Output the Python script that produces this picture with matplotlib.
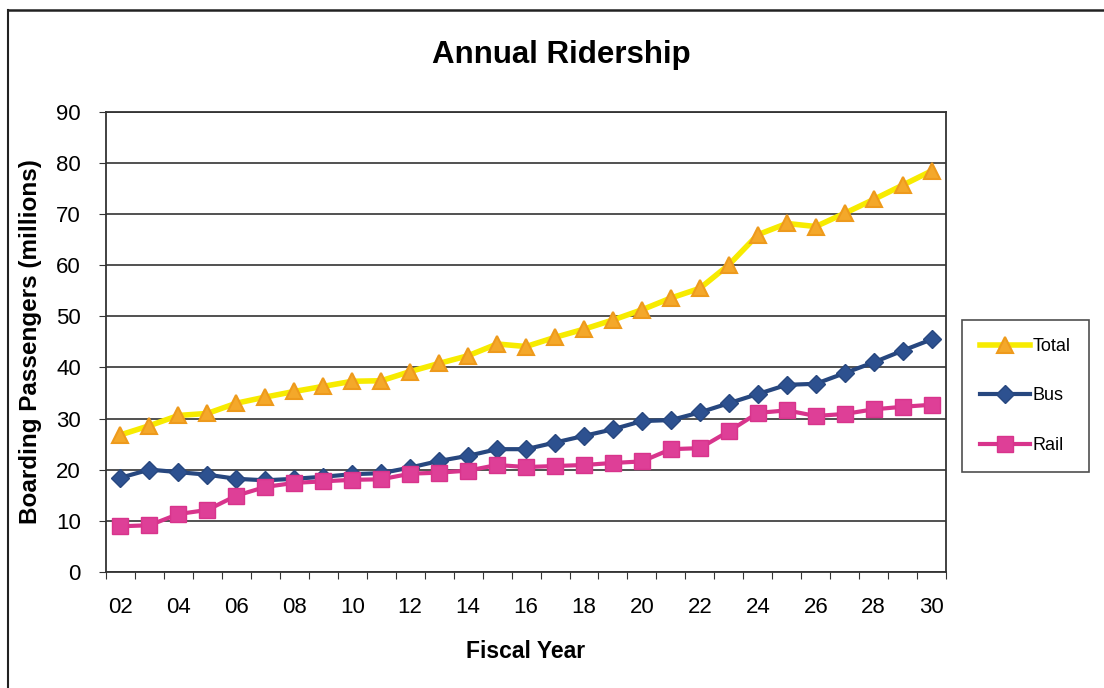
import matplotlib.pyplot as plt
import numpy as np

plt.rcParams['font.family'] = ['Liberation Sans', 'DejaVu Sans']

years = list(range(2, 31))
year_labels = [f'{y:02d}' for y in range(2, 31, 2)]

total = [26.8, 28.6, 30.6, 31.0, 33.0, 34.2, 35.3, 36.3, 37.3, 37.4,
         39.2, 40.8, 42.3, 44.6, 44.1, 45.9, 47.5, 49.3, 51.3, 53.6,
         55.5, 60.1, 66.0, 68.2, 67.6, 70.2, 72.9, 75.7, 78.5]
bus = [18.4, 20.0, 19.5, 19.0, 18.2, 17.9, 18.2, 18.6, 19.1, 19.3,
       20.4, 21.7, 22.7, 24.0, 24.0, 25.3, 26.6, 27.9, 29.5, 29.7,
       31.2, 33.0, 34.8, 36.6, 36.8, 38.9, 41.0, 43.3, 45.5]
rail = [8.9, 9.1, 11.3, 12.1, 14.9, 16.6, 17.4, 17.7, 18.0, 18.1,
        19.2, 19.4, 19.8, 20.9, 20.5, 20.7, 20.9, 21.3, 21.6, 24.0,
        24.2, 27.5, 31.1, 31.6, 30.5, 30.9, 31.8, 32.3, 32.7]

fig = plt.figure(figsize=(11.04, 6.88), dpi=100)
ax = fig.add_axes([0.096, 0.169, 0.761, 0.668])

ax.plot(years, total, color='#F7EB00', lw=4, marker='^', ms=11,
        mfc='#F4A82A', mec='#EE9A1C', mew=1.5, label='Total', zorder=3)
ax.plot(years, bus, color='#27477F', lw=3, marker='D', ms=9,
        mfc='#2D5190', mec='#27477F', label='Bus', zorder=4)
ax.plot(years, rail, color='#D8348C', lw=3, marker='s', ms=11,
        mfc='#DE3F97', mec='#D8348C', label='Rail', zorder=4)

ax.set_xlim(1.5, 30.5)
ax.set_ylim(0, 90)
ax.set_yticks(np.arange(0, 91, 10))
ax.yaxis.grid(True, color='#222222', lw=1.1)
ax.set_axisbelow(True)

# tick marks between categories, labels on every other year
ax.set_xticks(np.arange(1.5, 31, 1))
ax.set_xticklabels([])
ax.tick_params(axis='x', which='major', length=5, direction='out', color='#333333')
ax.set_xticks(range(2, 31, 2), minor=True)
ax.set_xticklabels(year_labels, minor=True)
ax.tick_params(axis='x', which='minor', length=0, pad=18, labelsize=16)
ax.tick_params(axis='y', length=5, direction='out', labelsize=16, pad=13, color='#333333')

for s in ax.spines.values():
    s.set_color('#333333')
    s.set_linewidth(1.3)

ax.set_xlabel('Fiscal Year', fontsize=16.5, fontweight='bold', labelpad=16)
ax.set_ylabel('Boarding Passengers (millions)', fontsize=17.5, fontweight='bold', labelpad=10)
fig.text(0.508, 0.92, 'Annual Ridership', ha='center', va='center',
         fontsize=22.5, fontweight='bold')

leg = fig.legend(loc='upper left', bbox_to_anchor=(0.871, 0.535), frameon=True,
                 fancybox=False, edgecolor='#222222', fontsize=13,
                 handlelength=2.8, labelspacing=1.8, borderpad=1.0, handletextpad=0.15,
                 borderaxespad=0)
leg.get_frame().set_linewidth(1.2)

# outer border of the chart area
fig.add_artist(plt.Line2D([0.007, 0.007], [0.0, 0.986], color='#222222', lw=1.5))
fig.add_artist(plt.Line2D([0.007, 1.0], [0.986, 0.986], color='#222222', lw=1.8))

fig.savefig('out.png', dpi=100)
